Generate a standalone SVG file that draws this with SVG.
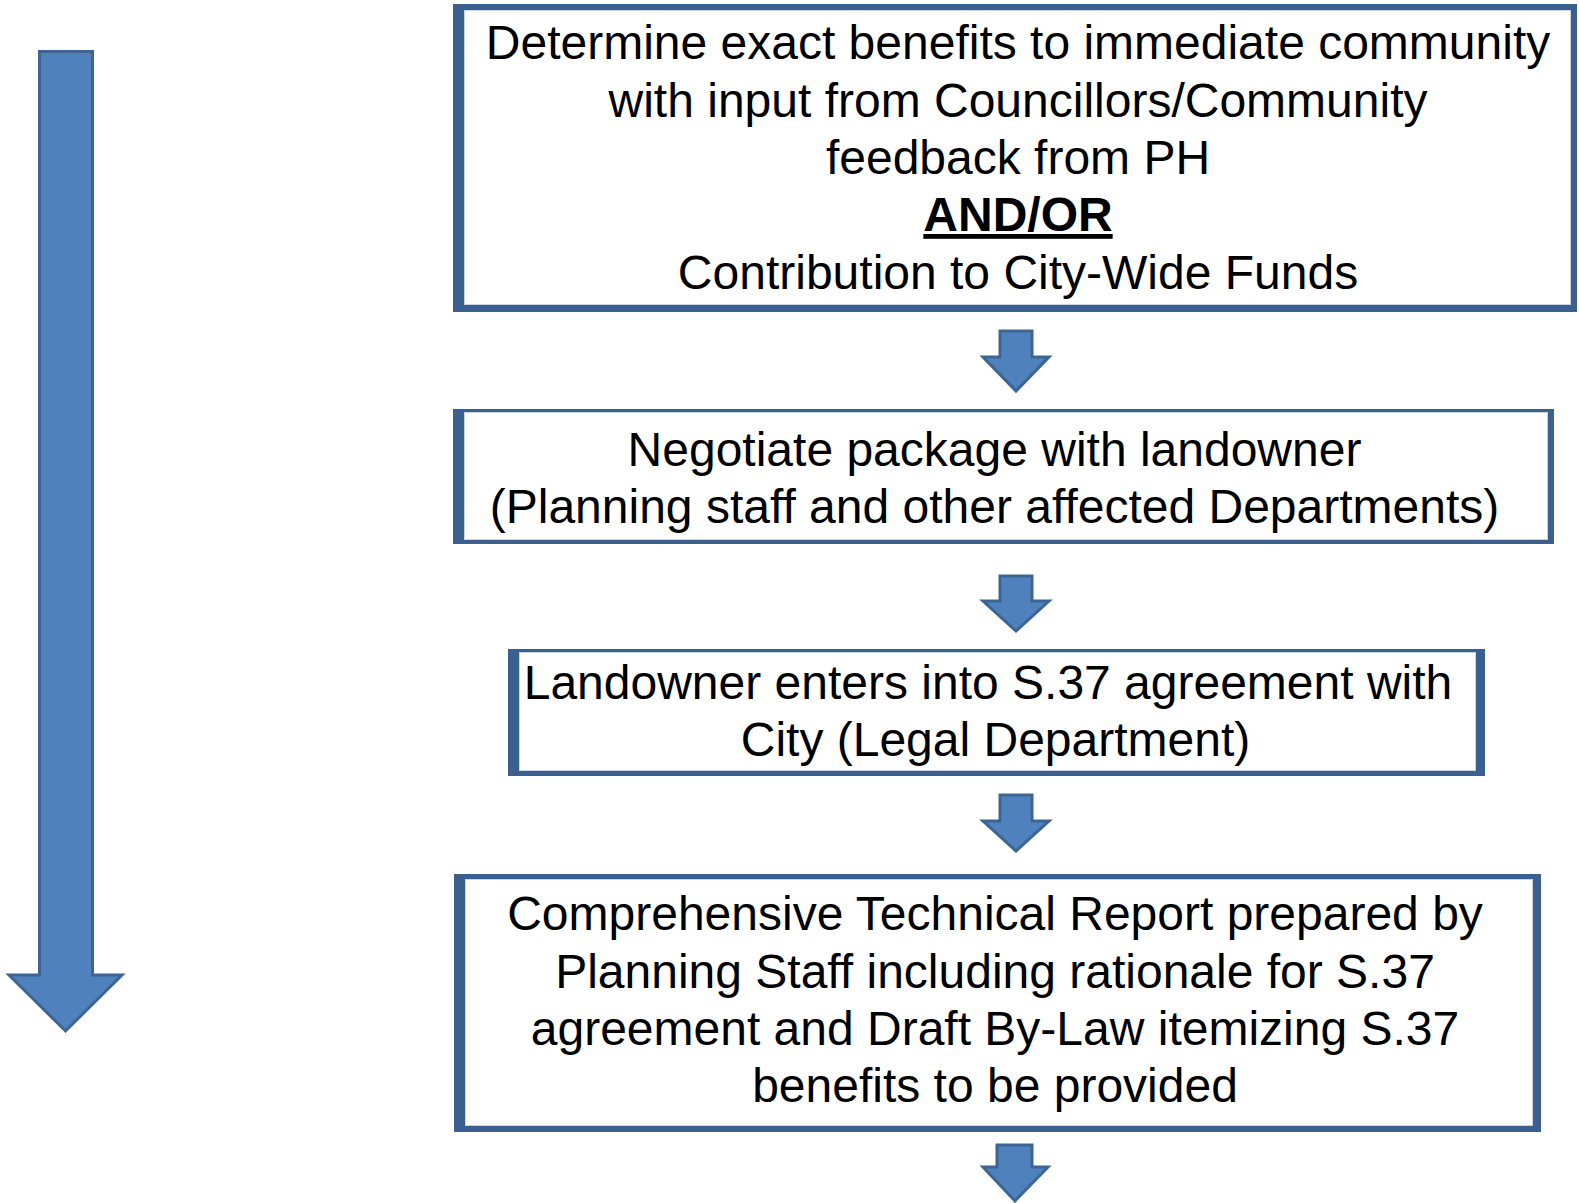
<svg xmlns="http://www.w3.org/2000/svg" width="1579" height="1203" viewBox="0 0 1579 1203">
<style>
.frame{fill:#3b5f8e}
.inner{fill:#ffffff;stroke:#c9d3e2;stroke-width:1}
.t{font-family:"Liberation Sans",Arial,sans-serif;font-size:48px;fill:#000;text-anchor:middle}
.b{font-weight:bold;text-decoration:underline}
.arr{fill:#4f81bd;stroke:#3c6595;stroke-width:3;stroke-linejoin:miter}
</style>
<rect width="1579" height="1203" fill="#ffffff"/>
<g id="timeline">
<path class="arr" d="M39.5,51.5 H92.5 V975 H122 L65.5,1031 L9,975 H39.5 Z"/>
</g>
<g id="node1">
<rect class="frame" x="453" y="4" width="1124" height="308"/>
<rect class="inner" x="464.5" y="10.5" width="1106" height="294"/>
<text class="t" x="1018" y="59">Determine exact benefits to immediate community</text>
<text class="t" x="1018" y="117">with input from Councillors/Community</text>
<text class="t" x="1018" y="174">feedback from PH</text>
<text class="t b" x="1018" y="231">AND/OR</text>
<text class="t" x="1018" y="289">Contribution to City-Wide Funds</text>
</g>
<g id="node2">
<rect class="frame" x="453" y="409" width="1101" height="135"/>
<rect class="inner" x="464.5" y="412.5" width="1083" height="127"/>
<text class="t" x="994.5" y="466">Negotiate package with landowner</text>
<text class="t" x="994.5" y="523">(Planning staff and other affected Departments)</text>
</g>
<g id="node3">
<rect class="frame" x="508" y="649" width="977" height="127"/>
<rect class="inner" x="519.5" y="652.5" width="956" height="118"/>
<text class="t" x="988" y="699">Landowner enters into S.37 agreement with</text>
<text class="t" x="995.5" y="756">City (Legal Department)</text>
</g>
<g id="node4">
<rect class="frame" x="454" y="874" width="1087" height="258"/>
<rect class="inner" x="465.5" y="879.5" width="1067" height="246"/>
<text class="t" x="995" y="930">Comprehensive Technical Report prepared by</text>
<text class="t" x="995" y="988">Planning Staff including rationale for S.37</text>
<text class="t" x="995" y="1045">agreement and Draft By-Law itemizing S.37</text>
<text class="t" x="995" y="1102">benefits to be provided</text>
</g>
<g id="connectors">
<path class="arr" d="M1000,331 H1032 V357 H1049 L1016,391 L983,357 H1000 Z"/>
<path class="arr" d="M1000,576 H1032 V601 H1049 L1016,631 L983,601 H1000 Z"/>
<path class="arr" d="M1000,795 H1032 V821 H1049 L1016,851 L983,821 H1000 Z"/>
<path class="arr" d="M997,1145 H1032 V1167 H1048 L1015,1201 L983,1167 H997 Z"/>
</g>
</svg>
